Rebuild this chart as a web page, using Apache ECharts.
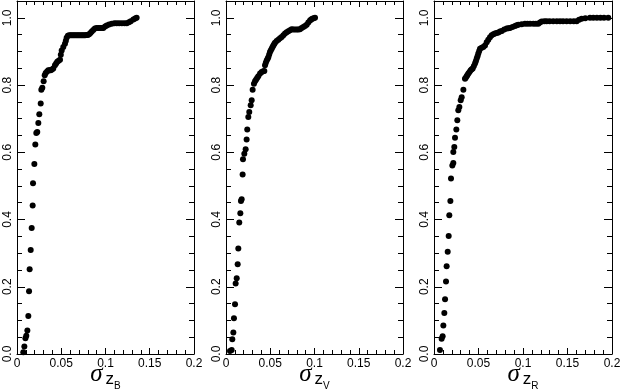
<!DOCTYPE html>
<html>
<head>
<meta charset="utf-8">
<script src="https://cdn.jsdelivr.net/npm/echarts@6/dist/echarts.min.js"></script>
<style>
  body { margin: 0; background: #fff; }
  #chart { width: 620px; height: 392px; }
</style>
</head>
<body>
<div id="chart"></div>
<script>
// panel 1: sigma z_B
const xB = [0.0071, 0.0083, 0.0095, 0.0105, 0.0117, 0.0128, 0.0136, 0.0143, 0.0155, 0.0166, 0.0177, 0.0181, 0.0196, 0.0207, 0.0218, 0.0229, 0.0241, 0.0252, 0.0268, 0.0275, 0.0286, 0.0301, 0.0313, 0.0324, 0.0340, 0.0354, 0.0368, 0.0381, 0.0395, 0.0410, 0.0429, 0.0442, 0.0455, 0.0470, 0.0486, 0.0495, 0.0505, 0.0523, 0.0542, 0.0552, 0.0561, 0.0575, 0.0590, 0.0605, 0.0620, 0.0635, 0.0650, 0.0665, 0.0680, 0.0695, 0.0710, 0.0725, 0.0740, 0.0755, 0.0770, 0.0785, 0.0800, 0.0815, 0.0830, 0.0845, 0.0862, 0.0880, 0.0900, 0.0920, 0.0940, 0.0960, 0.0975, 0.0995, 0.1014, 0.1040, 0.1070, 0.1100, 0.1127, 0.1155, 0.1185, 0.1215, 0.1240, 0.1265, 0.1285, 0.1315, 0.1335, 0.1352];
const yB = [0.005, 0.022, 0.047, 0.054, 0.070, 0.113, 0.187, 0.252, 0.309, 0.375, 0.442, 0.508, 0.565, 0.623, 0.657, 0.660, 0.687, 0.713, 0.745, 0.786, 0.792, 0.811, 0.829, 0.836, 0.840, 0.844, 0.844, 0.844, 0.846, 0.849, 0.859, 0.864, 0.869, 0.872, 0.875, 0.890, 0.903, 0.913, 0.923, 0.932, 0.941, 0.947, 0.948, 0.948, 0.948, 0.948, 0.948, 0.948, 0.948, 0.948, 0.948, 0.948, 0.948, 0.948, 0.948, 0.949, 0.949, 0.951, 0.955, 0.959, 0.964, 0.968, 0.970, 0.970, 0.970, 0.970, 0.970, 0.974, 0.977, 0.980, 0.982, 0.984, 0.984, 0.984, 0.984, 0.984, 0.984, 0.987, 0.990, 0.995, 0.998, 1.0];

// panel 2: sigma z_V
const xV = [0.0045, 0.0064, 0.0071, 0.0083, 0.0090, 0.0102, 0.0109, 0.0121, 0.0132, 0.0139, 0.0150, 0.0162, 0.0169, 0.0177, 0.0188, 0.0192, 0.0207, 0.0222, 0.0233, 0.0240, 0.0252, 0.0263, 0.0279, 0.0290, 0.0301, 0.0316, 0.0328, 0.0339, 0.0352, 0.0365, 0.0385, 0.0403, 0.0420, 0.0433, 0.0441, 0.0450, 0.0460, 0.0470, 0.0478, 0.0488, 0.0497, 0.0506, 0.0516, 0.0526, 0.0535, 0.0545, 0.0554, 0.0572, 0.0591, 0.0610, 0.0629, 0.0648, 0.0667, 0.0686, 0.0704, 0.0723, 0.0742, 0.0760, 0.0780, 0.0800, 0.0818, 0.0836, 0.0855, 0.0874, 0.0893, 0.0912, 0.0930, 0.0949, 0.0962, 0.0975, 0.0990, 0.1006];
const yV = [0.009, 0.012, 0.044, 0.064, 0.106, 0.148, 0.210, 0.225, 0.267, 0.314, 0.391, 0.419, 0.455, 0.460, 0.534, 0.579, 0.596, 0.609, 0.638, 0.668, 0.705, 0.720, 0.740, 0.755, 0.786, 0.804, 0.811, 0.816, 0.821, 0.826, 0.834, 0.839, 0.841, 0.842, 0.859, 0.866, 0.873, 0.878, 0.883, 0.891, 0.898, 0.903, 0.908, 0.913, 0.918, 0.922, 0.926, 0.931, 0.935, 0.939, 0.943, 0.948, 0.953, 0.957, 0.960, 0.963, 0.966, 0.965, 0.965, 0.965, 0.965, 0.966, 0.970, 0.973, 0.976, 0.979, 0.986, 0.992, 0.995, 0.997, 0.999, 1.0];

// panel 3: sigma z_R
const xR = [0.0067, 0.0086, 0.0097, 0.0105, 0.0116, 0.0124, 0.0135, 0.0142, 0.0154, 0.0165, 0.0172, 0.0184, 0.0191, 0.0206, 0.0217, 0.0217, 0.0228, 0.0236, 0.0251, 0.0262, 0.0273, 0.0285, 0.0300, 0.0311, 0.0330, 0.0348, 0.0357, 0.0367, 0.0376, 0.0386, 0.0399, 0.0412, 0.0424, 0.0435, 0.0448, 0.0461, 0.0470, 0.0480, 0.0489, 0.0498, 0.0508, 0.0517, 0.0536, 0.0554, 0.0573, 0.0592, 0.0610, 0.0629, 0.0648, 0.0667, 0.0685, 0.0704, 0.0723, 0.0742, 0.0761, 0.0789, 0.0817, 0.0836, 0.0854, 0.0882, 0.0910, 0.0929, 0.0948, 0.0985, 0.1022, 0.1050, 0.1080, 0.1116, 0.1145, 0.1172, 0.1190, 0.1210, 0.1240, 0.1266, 0.1300, 0.1340, 0.1380, 0.1416, 0.1450, 0.1490, 0.1530, 0.1570, 0.1603, 0.1630, 0.1659, 0.1700, 0.1753, 0.1790, 0.1830, 0.1870, 0.1910, 0.1958];
const yR = [0.012, 0.045, 0.053, 0.085, 0.122, 0.163, 0.216, 0.261, 0.304, 0.351, 0.413, 0.455, 0.522, 0.561, 0.568, 0.601, 0.616, 0.643, 0.668, 0.695, 0.725, 0.735, 0.755, 0.764, 0.786, 0.819, 0.822, 0.826, 0.830, 0.834, 0.839, 0.844, 0.847, 0.849, 0.857, 0.864, 0.871, 0.879, 0.886, 0.894, 0.901, 0.908, 0.911, 0.913, 0.918, 0.927, 0.935, 0.942, 0.948, 0.951, 0.953, 0.955, 0.956, 0.959, 0.961, 0.965, 0.968, 0.969, 0.970, 0.973, 0.976, 0.978, 0.979, 0.981, 0.982, 0.982, 0.982, 0.982, 0.982, 0.982, 0.986, 0.989, 0.990, 0.990, 0.990, 0.990, 0.990, 0.990, 0.990, 0.990, 0.990, 0.990, 0.990, 0.994, 0.997, 0.999, 1.0, 1.0, 1.0, 1.0, 1.0, 1.0];

const xTicks = [0, 0.05, 0.1, 0.15, 0.2];
const yTicks = [0, 0.2, 0.4, 0.6, 0.8, 1.0];
const subs = ['B', 'V', 'R'];

const panels = [[xB, yB], [xV, yV], [xR, yR]];
const gridLeft = [17, 226, 434];
const gridWidth = [177, 177, 178];

const grids = [], xAxes = [], yAxes = [], series = [];

function near(v, list) {
  return list.some(t => Math.abs(t - v) < 1e-6);
}

panels.forEach((p, i) => {
  grids.push({ left: gridLeft[i], width: gridWidth[i], top: 1, height: 353, outerBoundsMode: 'none', containLabel: false });

  const xBase = {
    gridIndex: i, type: 'value', min: 0, max: 0.2, interval: 0.05,
    splitLine: { show: false },
    axisLine: { show: true, onZero: false, lineStyle: { color: '#000', width: 1 } },
    axisTick: { show: true, inside: true, length: 6, lineStyle: { color: '#000' } },
    minorTick: { show: true, splitNumber: 5, length: 4, lineStyle: { color: '#000' } }
  };
  xAxes.push(Object.assign({}, xBase, {
    position: 'bottom',
    axisLabel: {
      color: '#000', fontSize: 12, fontFamily: 'Liberation Sans', margin: 4,
      formatter: v => near(v, xTicks) ? String(+v.toFixed(2)) : ''
    },
    name: '{s|σ}{z|z}{b|' + subs[i] + '}',
    nameLocation: 'middle', nameGap: 8, nameMoveOverlap: false,
    nameTextStyle: {
      verticalAlign: 'top',
      rich: {
        s: { fontFamily: 'Liberation Serif', fontStyle: 'italic', fontSize: 25, color: '#000', verticalAlign: 'bottom', padding: [0, 3, 4, 0] },
        z: { fontFamily: 'Liberation Sans', fontSize: 17, color: '#000', verticalAlign: 'bottom', padding: [0, 0, 3, 0] },
        b: { fontFamily: 'Liberation Sans', fontSize: 10, color: '#000', verticalAlign: 'bottom' }
      }
    }
  }));
  xAxes.push(Object.assign({}, xBase, { position: 'top', axisLabel: { show: false } }));

  // minor y ticks every 0.05, major every 0.2 (left and right)
  ['left', 'right'].forEach(pos => {
    yAxes.push({
      gridIndex: i, type: 'value', min: 0, max: 1.05, interval: 0.05, position: pos,
      splitLine: { show: false },
      axisLine: { show: true, onZero: false, lineStyle: { color: '#000', width: 1 } },
      axisTick: { show: true, inside: true, length: 5, lineStyle: { color: '#000' } },
      axisLabel: { show: false }
    });
    yAxes.push({
      gridIndex: i, type: 'value', min: 0, max: 1.05, interval: 0.2, position: pos,
      splitLine: { show: false },
      axisLine: { show: false, onZero: false },
      axisTick: { show: true, inside: true, length: 8, lineStyle: { color: '#000' } },
      axisLabel: {
        show: pos === 'left', rotate: 90, color: '#000', fontSize: 12,
        fontFamily: 'Liberation Sans', margin: 3,
        formatter: v => near(v, yTicks) ? v.toFixed(1) : ''
      }
    });
  });

  series.push({
    type: 'scatter',
    xAxisIndex: i * 2,
    yAxisIndex: i * 4 + 1,
    symbol: 'circle',
    symbolSize: 6,
    itemStyle: { color: '#000', opacity: 1 },
    silent: true,
    data: p[0].map((x, k) => [x, p[1][k]])
  });
});

const chart = echarts.init(document.getElementById('chart'));
chart.setOption({
  animation: false,
  backgroundColor: '#fff',
  grid: grids,
  xAxis: xAxes,
  yAxis: yAxes,
  series: series
});
</script>
</body>
</html>
